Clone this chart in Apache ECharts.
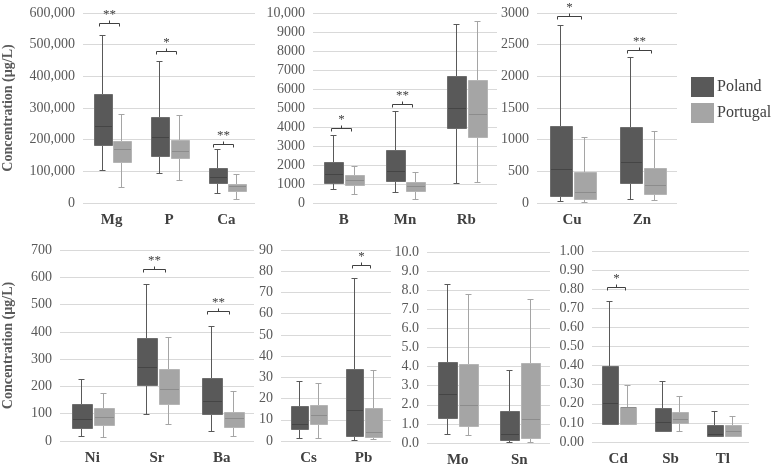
<!DOCTYPE html>
<html>
<head>
<meta charset="utf-8">
<script src="https://cdn.jsdelivr.net/npm/echarts@6/dist/echarts.min.js"></script>
<style>
html, body { margin: 0; padding: 0; background: #fff; }
#chart { width: 773px; height: 469px; }
</style>
</head>
<body>
<div id="chart"></div>
<script>
// each box: [min, q1, median, q3, max]
const catsMajor = ['Mg', 'P', 'Ca'];
const polandMajor = [[104000, 184000, 244000, 343000, 530000], [94000, 149000, 210000, 273000, 449000], [33000, 62000, 82000, 109000, 172000]];
const portugalMajor = [[49000, 131000, 172000, 195000, 282000], [74000, 141000, 165000, 200000, 279000], [14000, 38000, 53000, 60000, 91000]];
const sigMajor = [[0, 568000], [1, 480000], [2, 187000]];
const starsMajor = ['**', '*', '**'];

const catsBMn = ['B', 'Mn', 'Rb'];
const polandBMn = [[750, 1050, 1545, 2140, 3600], [600, 1160, 1690, 2800, 4830], [1070, 3940, 4980, 6680, 9400]];
const portugalBMn = [[480, 965, 1230, 1490, 1960], [230, 650, 870, 1100, 1650], [1100, 3480, 4660, 6470, 9600]];
const sigBMn = [[0, 3950], [1, 5200]];
const starsBMn = ['*', '**'];

const catsCuZn = ['Cu', 'Zn'];
const polandCuZn = [[25, 105, 542, 1215, 2810], [68, 322, 648, 1195, 2300]];
const portugalCuZn = [[10, 68, 174, 485, 1035], [47, 148, 280, 558, 1140]];
const sigCuZn = [[0, 2950], [1, 2420]];
const starsCuZn = ['*', '**'];

const catsNiSr = ['Ni', 'Sr', 'Ba'];
const polandNiSr = [[17, 46, 82, 134, 226], [98, 207, 273, 378, 575], [35, 98, 148, 230, 422]];
const portugalNiSr = [[16, 59, 89, 121, 177], [61, 134, 191, 265, 380], [18, 51, 83, 108, 185]];
const sigNiSr = [[1, 632], [2, 477]];
const starsNiSr = ['**', '**'];

const catsCsPb = ['Cs', 'Pb'];
const polandCsPb = [[1.5, 5.7, 8.1, 16.5, 28.5], [0.3, 2.4, 14.4, 34.0, 77]];
const portugalCsPb = [[1.2, 8.0, 12.4, 17.1, 27.5], [0.8, 1.9, 4.4, 15.6, 33.4]];
const sigCsPb = [[1, 83]];
const starsCsPb = ['*'];

const catsMoSn = ['Mo', 'Sn'];
const polandMoSn = [[0.47, 1.29, 2.56, 4.26, 8.35], [0.05, 0.14, 0.45, 1.65, 3.82]];
const portugalMoSn = [[0.43, 0.9, 1.98, 4.12, 7.8], [0.05, 0.28, 1.28, 4.2, 7.56]];
const sigMoSn = [];
const starsMoSn = [];

const catsCdSb = ['Cd', 'Sb', 'Tl'];
const polandCdSb = [[0.096, 0.096, 0.203, 0.397, 0.737], [0.058, 0.058, 0.105, 0.176, 0.32], [0.034, 0.034, 0.04, 0.088, 0.164]];
const portugalCdSb = [[0.095, 0.095, 0.183, 0.185, 0.3], [0.06, 0.098, 0.12, 0.158, 0.242], [0.034, 0.034, 0.057, 0.088, 0.137]];
const sigCdSb = [[0, 0.81]];
const starsCdSb = ['*'];

// [max, interval] of each value axis
const yRanges = [[600000, 100000], [10000, 1000], [3000, 500], [700, 100], [90, 10], [10, 1], [1, 0.1]];

const FONT = '"Liberation Serif", "Times New Roman", serif';
const DARK = '#595959';
const LIGHT = '#a5a5a5';

const grids = [
  { left: 80, top: 13, width: 175, height: 190 },
  { left: 313, top: 13, width: 184, height: 190 },
  { left: 537, top: 13, width: 140, height: 190 },
  { left: 57, top: 250, width: 197, height: 191 },
  { left: 281, top: 250, width: 110, height: 191 },
  { left: 427, top: 252, width: 123, height: 191 },
  { left: 592, top: 251, width: 157, height: 191 }
];

const panels = [
  [catsMajor, polandMajor, portugalMajor, sigMajor, starsMajor, v => v === 0 ? '0' : v.toLocaleString('en-US')],
  [catsBMn, polandBMn, portugalBMn, sigBMn, starsBMn, v => v >= 10000 ? v.toLocaleString('en-US') : String(v)],
  [catsCuZn, polandCuZn, portugalCuZn, sigCuZn, starsCuZn, v => String(v)],
  [catsNiSr, polandNiSr, portugalNiSr, sigNiSr, starsNiSr, v => String(v)],
  [catsCsPb, polandCsPb, portugalCsPb, sigCsPb, starsCsPb, v => String(v)],
  [catsMoSn, polandMoSn, portugalMoSn, sigMoSn, starsMoSn, v => v.toFixed(1)],
  [catsCdSb, polandCdSb, portugalCdSb, sigCdSb, starsCdSb, v => v.toFixed(2)]
];

function boxRender(side, fill, stroke, mid) {
  return function (params, api) {
    const c = api.value(0);
    const band = api.size([1, 0])[0];
    const cx = Math.round(api.coord([c, 0])[0] + side * band * 0.168) + 0.5;
    const w = Math.round(band * 0.31);
    const y = [1, 2, 3, 4, 5].map(d => Math.round(api.coord([c, api.value(d)])[1]) + 0.5);
    const cap = 3;
    const ls = { stroke: fill, lineWidth: 1 };
    const bx = Math.round(cx - w / 2);
    return {
      type: 'group',
      children: [
        { type: 'line', shape: { x1: cx, y1: y[0], x2: cx, y2: y[1] }, style: ls },
        { type: 'line', shape: { x1: cx, y1: y[3], x2: cx, y2: y[4] }, style: ls },
        { type: 'line', shape: { x1: cx - cap, y1: y[0], x2: cx + cap, y2: y[0] }, style: ls },
        { type: 'line', shape: { x1: cx - cap, y1: y[4], x2: cx + cap, y2: y[4] }, style: ls },
        { type: 'rect', shape: { x: bx + 0.5, y: y[3], width: w, height: y[1] - y[3] }, style: { fill: fill, stroke: stroke, lineWidth: 1 } },
        { type: 'line', shape: { x1: bx + 1, y1: y[2], x2: bx + w, y2: y[2] }, style: { stroke: mid, lineWidth: 1 } }
      ]
    };
  };
}

function bracketRender(labels) {
  return function (params, api) {
    const c = api.value(0);
    const band = api.size([1, 0])[0];
    const cx = Math.round(api.coord([c, 0])[0] - band * 0.05) + 0.5;
    const y = Math.round(api.coord([c, api.value(1)])[1]) + 0.5;
    const hw = Math.round(band * 0.17);
    const st = { stroke: '#404040', lineWidth: 1, fill: null };
    return {
      type: 'group',
      children: [
        { type: 'polyline', shape: { points: [[cx - hw, y + 3], [cx - hw, y], [cx + hw, y], [cx + hw, y + 3]] }, style: st },
        { type: 'line', shape: { x1: cx, y1: y, x2: cx, y2: y - 3 }, style: st },
        { type: 'text', x: cx, y: y - 2, style: { text: labels[params.dataIndex], fill: '#404040', font: '13px ' + FONT, align: 'center', verticalAlign: 'bottom' } }
      ]
    };
  };
}

const xAxes = [];
const yAxes = [];
const series = [];

panels.forEach(function (p, i) {
  const [cats, pol, por, sig, stars, fmt] = p;
  xAxes.push({
    gridIndex: i,
    type: 'category',
    data: cats,
    axisLine: { show: false },
    axisTick: { show: false },
    axisLabel: { margin: 10, fontFamily: FONT, fontSize: 15, fontWeight: 'bold', color: '#404040' }
  });
  const yAx = {
    gridIndex: i,
    type: 'value',
    min: 0,
    max: yRanges[i][0],
    interval: yRanges[i][1],
    axisLine: { show: false },
    axisTick: { show: false },
    splitLine: { lineStyle: { color: '#d9d9d9', width: 1 } },
    axisLabel: { margin: 8, fontFamily: FONT, fontSize: 14, color: DARK, formatter: fmt }
  };
  if (i === 0 || i === 3) {
    yAx.name = 'Concentration (µg/L)';
    yAx.nameLocation = 'middle';
    yAx.nameGap = i === 0 ? 68 : 45;
    yAx.nameTextStyle = { fontFamily: FONT, fontSize: 14, fontWeight: 'bold', color: DARK };
  }
  yAxes.push(yAx);
  series.push({
    name: 'Poland',
    type: 'custom',
    xAxisIndex: i,
    yAxisIndex: i,
    clip: false,
    itemStyle: { color: DARK },
    encode: { x: 0, y: [1, 2, 3, 4, 5] },
    renderItem: boxRender(-1, DARK, '#6e6e6e', '#454545'),
    data: pol.map((b, k) => [k].concat(b))
  });
  series.push({
    name: 'Portugal',
    type: 'custom',
    xAxisIndex: i,
    yAxisIndex: i,
    clip: false,
    itemStyle: { color: LIGHT },
    encode: { x: 0, y: [1, 2, 3, 4, 5] },
    renderItem: boxRender(1, LIGHT, '#b5b5b5', '#8c8c8c'),
    data: por.map((b, k) => [k].concat(b))
  });
  if (sig.length) {
    series.push({
      type: 'custom',
      xAxisIndex: i,
      yAxisIndex: i,
      clip: false,
      silent: true,
      encode: { x: 0, y: 1 },
      renderItem: bracketRender(stars),
      data: sig
    });
  }
});

const chart = echarts.init(document.getElementById('chart'));
chart.setOption({
  animation: false,
  backgroundColor: '#fff',
  legend: {
    data: ['Poland', 'Portugal'],
    orient: 'vertical',
    left: 691,
    top: 77,
    padding: 0,
    icon: 'rect',
    itemWidth: 23,
    itemHeight: 20,
    itemGap: 6,
    textStyle: { fontFamily: FONT, fontSize: 16, color: '#404040', padding: [0, 0, 0, -2], overflow: 'none' }
  },
  grid: grids,
  xAxis: xAxes,
  yAxis: yAxes,
  series: series
});
</script>
</body>
</html>
